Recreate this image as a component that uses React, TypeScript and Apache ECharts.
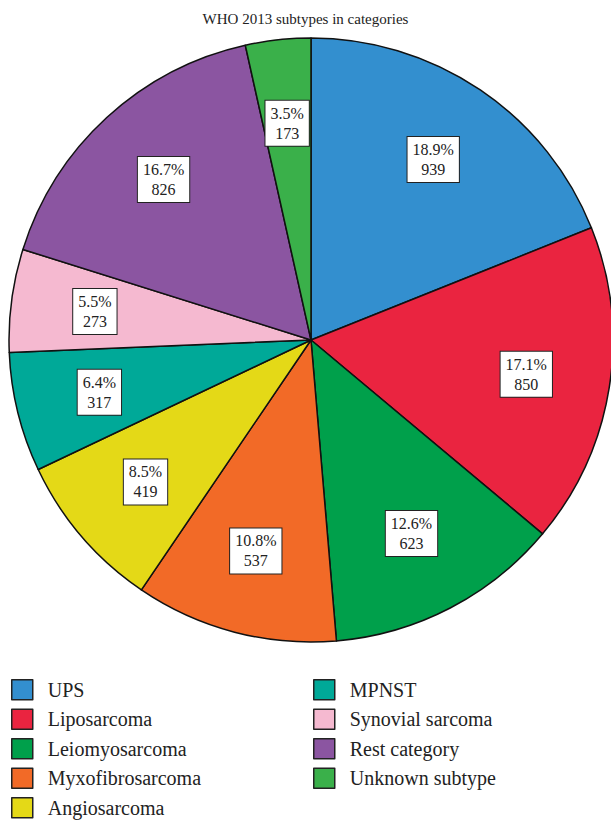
import React, { useEffect, useRef } from "react";
import * as echarts from "echarts";

const title = "WHO 2013 subtypes in categories";
const categories = [
  "UPS",
  "Liposarcoma",
  "Leiomyosarcoma",
  "Myxofibrosarcoma",
  "Angiosarcoma",
  "MPNST",
  "Synovial sarcoma",
  "Rest category",
  "Unknown subtype",
];
const counts = [939, 850, 623, 537, 419, 317, 273, 826, 173];
const percents = ["18.9%", "17.1%", "12.6%", "10.8%", "8.5%", "6.4%", "5.5%", "16.7%", "3.5%"];
const colors = [
  "#338fcf",
  "#ea2440",
  "#00a04b",
  "#f26a27",
  "#e4d917",
  "#00a998",
  "#f5b9d0",
  "#8b55a1",
  "#3ab04a",
];

const FONT = "'Liberation Serif', 'Times New Roman', serif";

export default function App() {
  const ref = useRef<HTMLDivElement>(null);
  useEffect(() => {
    if (!ref.current) return;
    const chart = echarts.init(ref.current, null, { renderer: "svg" });
    const pieData = categories.map((c, i) => ({
      name: c,
      value: counts[i],
      itemStyle: { color: colors[i] },
    }));
    const labelData = categories.map((c, i) => ({
      name: c + "__label",
      value: counts[i],
    }));
    const legendBase = {
      orient: "vertical",
      top: 679,
      height: 160,
      padding: 0,
      icon: "rect",
      itemWidth: 21,
      itemHeight: 20,
      itemGap: 8,
      selectedMode: false,
      itemStyle: { borderColor: "#222", borderWidth: 1.5 },
      textStyle: {
        fontFamily: FONT,
        fontSize: 20,
        lineHeight: 20,
        color: "#222",
        padding: [0, 0, 0, 10],
      },
    };
    chart.setOption({
      animation: false,
      backgroundColor: "#ffffff",
      title: {
        text: title,
        left: "center",
        top: 6,
        textStyle: { fontFamily: FONT, fontSize: 15, fontWeight: "normal", color: "#222" },
      },
      legend: [
        { ...legendBase, left: 11, data: categories.slice(0, 5) },
        { ...legendBase, left: 313, data: categories.slice(5) },
      ],
      series: [
        {
          type: "pie",
          center: [311, 340],
          radius: [0, 302],
          startAngle: 90,
          clockwise: true,
          silent: true,
          data: pieData,
          label: { show: false },
          labelLine: { show: false },
          itemStyle: { borderColor: "#111", borderWidth: 1.5 },
        },
        {
          type: "pie",
          center: [311, 340],
          radius: [0, 430],
          startAngle: 90,
          clockwise: true,
          silent: true,
          data: labelData,
          itemStyle: { color: "rgba(0,0,0,0)", borderWidth: 0 },
          labelLine: { show: false },
          label: {
            show: true,
            position: "inside",
            formatter: (p: any) => percents[p.dataIndex] + "\n" + counts[p.dataIndex],
            fontFamily: FONT,
            fontSize: 16,
            lineHeight: 20,
            color: "#222",
            backgroundColor: "#ffffff",
            borderColor: "#222",
            borderWidth: 1,
            padding: [3, 5, 2, 5],
            align: "center",
          },
        },
      ],
    });
    return () => chart.dispose();
  }, []);
  return (
    <div
      ref={ref}
      style={{ position: "fixed", left: 0, top: 0, width: 611, height: 822 }}
    />
  );
}
